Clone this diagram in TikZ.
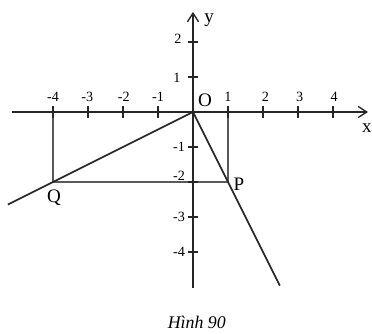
\documentclass[tikz,border=0pt]{standalone}
\usepackage{fontspec}
\setmainfont{Liberation Serif}
\usetikzlibrary{arrows.meta}
\begin{document}
\begin{tikzpicture}[
  axis/.style={line width=1.3pt, draw=black!85, -{Straight Barb[length=7pt,width=9pt,line width=1.1pt]}},
  mainline/.style={line width=1.3pt, draw=black!85},
  guide/.style={line width=0.9pt, draw=black!65},
  tickmark/.style={line width=1.1pt, draw=black!85},
  ticklabel/.style={font=\fontsize{11.5}{13}\selectfont, inner sep=0pt},
  ptlabel/.style={font=\fontsize{15.5}{17}\selectfont, inner sep=0pt},
  caption/.style={font=\fontsize{14.5}{16}\selectfont\itshape, inner sep=0pt}
]
\useasboundingbox (-5.514,-6.314) rectangle (5.114,3.2);
% points
\coordinate (O) at (0,0);
\coordinate (Q) at (-4,-2);
\coordinate (P) at (1,-2);
\coordinate (A4) at (-4,0);
\coordinate (A1) at (1,0);
\coordinate (Qend) at (-5.29,-2.645);
\coordinate (Pend) at (2.48,-4.96);
\coordinate (xs) at (-5.17,0);
\coordinate (xe) at (5.0,0);
\coordinate (ys) at (0,-5.03);
\coordinate (ye) at (0,2.86);
% guides
\draw[guide] (A4) -- (Q) -- (P) -- (A1);
% axes
\draw[axis] (xs) -- (xe);
\draw[axis] (ys) -- (ye);
% ticks
\foreach \i in {-4,-3,-2,-1,1,2,3,4} {
  \draw[tickmark] (\i,-0.17) -- (\i,0.17);
}
\foreach \j in {-4,-3,-2,-1,1,2} {
  \draw[tickmark] (-0.15,\j) -- (0.15,\j);
}
% lines
\draw[mainline] (O) -- (Qend);
\draw[mainline] (O) -- (Pend);
% tick labels
\foreach \i/\p in {-4/-4,-3/-3.02,-2/-1.98,-1/-1,1/1,2/2.07,3/3.05,4/4.03} {
  \node[ticklabel] (tx\i) at (\p,0.43) {\i};
}
\node[ticklabel] (ty2) at (-0.43,2.09) {2};
\node[ticklabel] (ty1) at (-0.46,0.97) {1};
\node[ticklabel] (tym1) at (-0.4,-1.0) {-1};
\node[ticklabel] (tym2) at (-0.4,-1.83) {-2};
\node[ticklabel] (tym3) at (-0.4,-3.0) {-3};
\node[ticklabel] (tym4) at (-0.4,-4.0) {-4};
% point labels
\node[ptlabel] (lO) at (0.34,0.34) {O};
\node[ptlabel] (lQ) at (-3.97,-2.46) {Q};
\node[ptlabel] (lP) at (1.31,-2.05) {P};
\node[ptlabel] (lx) at (4.97,-0.46) {x};
\node[ptlabel] (ly) at (0.46,2.63) {y};
% caption
\node[caption] (cap) at (0.11,-6.0) {Hình 90};
\end{tikzpicture}
\end{document}
